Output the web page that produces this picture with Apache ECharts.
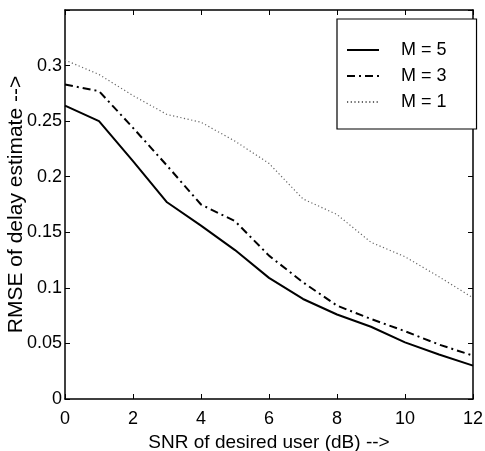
<!DOCTYPE html>
<html>
<head>
<meta charset="utf-8">
<script src="https://cdn.jsdelivr.net/npm/echarts@6/dist/echarts.min.js"></script>
<style>
  html, body { margin: 0; padding: 0; background: #fff; }
  #chart { width: 485px; height: 451px; }
</style>
</head>
<body>
<div id="chart"></div>
<script>
// SNR values (dB) on the horizontal axis
const snrDb = [0, 1, 2, 3, 4, 5, 6, 7, 8, 9, 10, 11, 12];
// RMSE of the delay estimate for each M
const rmseM5 = [0.264, 0.250, 0.214, 0.177, 0.156, 0.134, 0.109, 0.090, 0.076, 0.065, 0.051, 0.040, 0.030];
const rmseM3 = [0.283, 0.277, 0.244, 0.210, 0.175, 0.160, 0.129, 0.105, 0.084, 0.072, 0.061, 0.049, 0.039];
const rmseM1 = [0.305, 0.292, 0.273, 0.256, 0.249, 0.232, 0.212, 0.180, 0.166, 0.141, 0.128, 0.110, 0.091];
const seriesNames = ['M = 5', 'M = 3', 'M = 1'];
const xTicks = [0, 2, 4, 6, 8, 10, 12];
const yTicks = [0, 0.05, 0.1, 0.15, 0.2, 0.25, 0.3];

const FONT = 'Liberation Sans, Arial, sans-serif';
const pairs = ys => snrDb.map((x, i) => [x, ys[i]]);

const chart = echarts.init(document.getElementById('chart'), null, { renderer: 'canvas' });

const baseX = {
  type: 'value', min: 0, max: 12, interval: 2,
  axisLine: { show: true, onZero: false, lineStyle: { color: '#000', width: 1.5 } },
  axisTick: { show: true, inside: true, length: 5, lineStyle: { color: '#000', width: 1 } },
  splitLine: { show: false }
};
const baseY = {
  type: 'value', min: 0, max: 0.35, interval: 0.05,
  axisLine: { show: true, onZero: false, lineStyle: { color: '#000', width: 1.5 } },
  axisTick: { show: true, inside: true, length: 5, lineStyle: { color: '#000', width: 1 } },
  splitLine: { show: false }
};

chart.setOption({
  backgroundColor: '#fff',
  animation: false,
  grid: { left: 65, top: 10, right: 12, bottom: 52, containLabel: false, outerBoundsMode: 'none' },
  xAxis: [
    Object.assign({}, baseX, {
      position: 'bottom',
      name: 'SNR of desired user (dB) -->',
      nameLocation: 'middle', nameGap: 34, nameMoveOverlap: false,
      nameTextStyle: { fontFamily: FONT, fontSize: 19, color: '#000' },
      axisLabel: {
        fontFamily: FONT, fontSize: 18, color: '#000', margin: 11,
        formatter: v => xTicks.includes(v) ? String(v) : ''
      }
    }),
    Object.assign({}, baseX, { position: 'top', axisLabel: { show: false } })
  ],
  yAxis: [
    Object.assign({}, baseY, {
      position: 'left',
      name: 'RMSE of delay estimate -->',
      nameLocation: 'middle', nameGap: 38, nameMoveOverlap: false,
      nameTextStyle: { fontFamily: FONT, fontSize: 21, color: '#000' },
      axisLabel: {
        fontFamily: FONT, fontSize: 18, color: '#000', margin: 3,
        formatter: v => {
          const t = yTicks.find(k => Math.abs(k - v) < 1e-9);
          return t === undefined ? '' : String(+t.toFixed(2));
        }
      }
    }),
    Object.assign({}, baseY, { position: 'right', axisLabel: { show: false } })
  ],
  legend: {
    orient: 'vertical',
    left: 337, top: 19,
    padding: [22, 30, 18, 9],
    itemGap: 8,
    itemWidth: 32, itemHeight: 17,
    borderColor: '#000', borderWidth: 1.2,
    backgroundColor: '#fff',
    itemStyle: { opacity: 0, borderWidth: 0 },
    textStyle: { fontFamily: FONT, fontSize: 18, color: '#000', padding: [0, 0, 0, 17] },
    data: seriesNames
  },
  series: [
    {
      name: seriesNames[0], type: 'line', data: pairs(rmseM5),
      symbol: 'none', lineStyle: { color: '#000', width: 2, type: 'solid' },
      itemStyle: { color: '#000' }
    },
    {
      name: seriesNames[1], type: 'line', data: pairs(rmseM3),
      symbol: 'none', lineStyle: { color: '#000', width: 2, type: [8, 4, 2, 4] },
      itemStyle: { color: '#000' }
    },
    {
      name: seriesNames[2], type: 'line', data: pairs(rmseM1),
      symbol: 'none', lineStyle: { color: '#666', width: 1.2, type: [1.2, 2.5] },
      itemStyle: { color: '#666' }
    }
  ]
});
</script>
</body>
</html>
